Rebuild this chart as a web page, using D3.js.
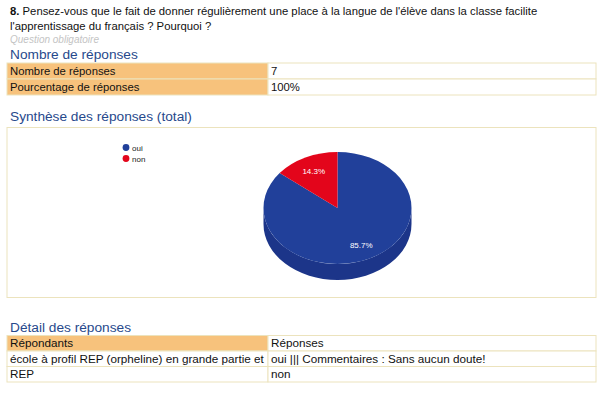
<!DOCTYPE html>
<html><head><meta charset="utf-8">
<script src="https://cdn.jsdelivr.net/npm/d3@7"></script>
<style>
html,body{margin:0;padding:0;background:#fff;}
svg{display:block;font-family:"Liberation Sans",Arial,sans-serif;}
</style></head>
<body>
<svg id="c" width="605" height="396"></svg>
<script>
// ---- data ----
const questionNum = "8.";
const questionLines = [" Pensez-vous que le fait de donner régulièrement une place à la langue de l'élève dans la classe facilite",
                       "l'apprentissage du français ? Pourquoi ?"];
const questionNote = "Question obligatoire";
const countLabels = ["Nombre de réponses", "Pourcentage de réponses"];
const countValues = ["7", "100%"];
const categories = ["oui", "non"];
const values = [6, 1];
const percentLabels = ["85.7%", "14.3%"];
const colors = ["#21409a", "#e3051b"];
const detailHeader = ["Répondants", "Réponses"];
const detailRespondents = ["école à profil REP (orpheline) en grande partie et", "REP"];
const detailAnswers = ["oui ||| Commentaires : Sans aucun doute!", "non"];

const svg = d3.select("#c");
const headColor = "#27498c";
const orange = "#f7c27c";
const border = "#ece3bd";
const L = 7, R = 596, MID = 268;

// question
const q = svg.append("text").attr("x", 10).attr("y", 15).attr("font-size", 11.3).attr("fill", "#111");
q.append("tspan").attr("font-weight", "bold").text(questionNum);
q.append("tspan").text(questionLines[0]);
svg.append("text").attr("x", 10).attr("y", 30).attr("font-size", 11.3).attr("fill", "#111").text(questionLines[1]);
svg.append("text").attr("x", 10).attr("y", 43).attr("font-size", 10).attr("font-style", "italic").attr("fill", "#c4c4c4").text(questionNote);

function heading(t, y) {
  svg.append("text").attr("x", 10).attr("y", y).attr("font-size", 13.7).attr("fill", headColor).text(t);
}

function table(top, rowH, rows, orangeLeft, orangeHeaderOnly, fs) {
  rows.forEach((r, i) => {
    const y = top + i * rowH;
    const leftOrange = orangeLeft && (!orangeHeaderOnly || i === 0);
    svg.append("rect").attr("x", L).attr("y", y).attr("width", MID - L).attr("height", rowH)
      .attr("fill", leftOrange ? orange : "#fff").attr("stroke", border).attr("stroke-width", 1);
    svg.append("rect").attr("x", MID).attr("y", y).attr("width", R - MID).attr("height", rowH)
      .attr("fill", "#fff").attr("stroke", border).attr("stroke-width", 1);
    svg.append("text").attr("x", 10).attr("y", y + rowH - 4).attr("font-size", fs).attr("fill", "#111").text(r[0]);
    svg.append("text").attr("x", 271).attr("y", y + rowH - 4).attr("font-size", fs).attr("fill", "#111").text(r[1]);
  });
}

heading("Nombre de réponses", 59);
table(63, 16, countLabels.map((d, i) => [d, countValues[i]]), true, false, 11.3);

heading("Synthèse des réponses (total)", 121);
svg.append("rect").attr("x", L).attr("y", 127.5).attr("width", R - L).attr("height", 170)
  .attr("fill", "#fff").attr("stroke", border);

// legend
const leg = svg.append("g").attr("font-size", 8);
categories.forEach((c, i) => {
  leg.append("circle").attr("cx", 126).attr("cy", 147.5 + i * 11).attr("r", 3.4).attr("fill", colors[i]);
  leg.append("text").attr("x", 132).attr("y", 150.5 + i * 11).attr("fill", "#222").text(c);
});

// 3D pie
const cx = 337.5, cy = 208, rx = 74, ry = 56, depth = 16;
const k = ry / rx;
const pie = d3.pie().sort(null).value(d => d)(values);
const g = svg.append("g").attr("transform", `translate(${cx},${cy}) scale(1,${k})`);
const dU = depth / k;
// side wall (front half, belongs to the blue slice)
const side = d3.path();
side.moveTo(rx, 0);
side.arc(0, 0, rx, 0, Math.PI);
side.lineTo(-rx, dU);
side.arc(0, dU, rx, Math.PI, 0, true);
side.closePath();
g.append("path").attr("d", side.toString()).attr("fill", "#1c3589");
const arc = d3.arc().innerRadius(0).outerRadius(rx);
g.selectAll("path.slice").data(pie).enter().append("path").attr("class", "slice")
  .attr("d", arc).attr("fill", (d, i) => colors[i]);
const labelArc = d3.arc().innerRadius(rx * 0.74).outerRadius(rx * 0.74);
pie.forEach((d, i) => {
  const [x, y] = labelArc.centroid(d);
  svg.append("text").attr("x", cx + x).attr("y", cy + y * k + 3).attr("text-anchor", "middle")
    .attr("font-size", 8).attr("fill", "#fff").text(percentLabels[i]);
});

heading("Détail des réponses", 332);
table(335.5, 15.5, [detailHeader].concat(detailRespondents.map((d, i) => [d, detailAnswers[i]])), true, true, 11.7);
</script>
</body></html>
